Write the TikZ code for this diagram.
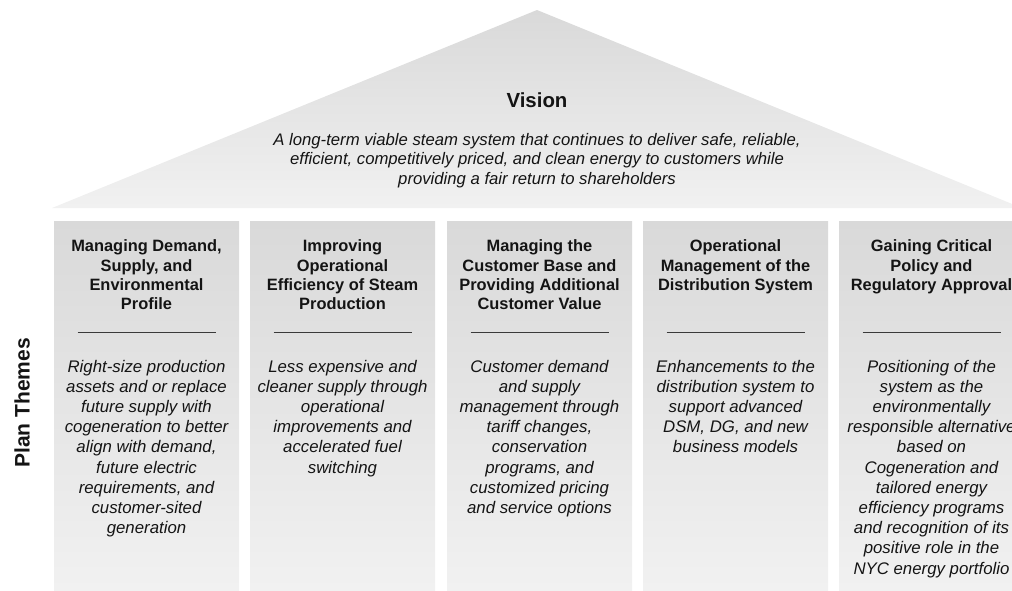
\documentclass[tikz,border=0pt]{standalone}
\usepackage{fontspec}
\setmainfont{Liberation Sans}
\usepackage{xcolor}
\usepackage{tikz}
\usetikzlibrary{positioning}

\definecolor{grisalto}{HTML}{D9D9D9}
\definecolor{grisbajo}{HTML}{F1F1F1}
\definecolor{texto}{HTML}{141414}
\definecolor{raya}{HTML}{3A3A3A}

\begin{document}
\begin{tikzpicture}[x=1pt, y=-1pt, every node/.style={text=texto}]
\tikzstyle{columna}=[
    rectangle,
    top color=grisalto,
    bottom color=grisbajo,
    draw=none,
    inner sep=0pt,
    minimum width=185pt,
    minimum height=369pt % Alto de columna
]
\tikzstyle{titulo}=[align=center, inner sep=0pt, font=\bfseries\fontsize{16.4}{19.3}\selectfont]
\tikzstyle{cuerpo}=[align=center, inner sep=0pt, font=\itshape\fontsize{16.8}{20.2}\selectfont]
\tikzstyle{regla}=[-, thick, raya]

\useasboundingbox (0,0) rectangle (1012,590);
\clip (0,0) rectangle (1012,590);

% Techo
\shade[top color=grisalto, bottom color=grisbajo] (52,208) -- (537,10) -- (1022,208) -- cycle;
\node[font=\bfseries\fontsize{20.4}{24}\selectfont] (vision) at (537,100) {Vision};
\node[cuerpo, font=\itshape\fontsize{16.7}{19.5}\selectfont, below=22pt of vision] (vtexto)
  {A long-term viable steam system that continues to deliver safe, reliable,\\
   efficient, competitively priced, and clean energy to customers while\\
   providing a fair return to shareholders};

% Columnas
\node[columna] (c1) at (146.5,405.5) {};
\node[columna] (c2) at (342.5,405.5) {};
\node[columna] (c3) at (539.5,405.5) {};
\node[columna] (c4) at (735.5,405.5) {};
\node[columna] (c5) at (931.5,405.5) {};

\node[rotate=90, font=\bfseries\fontsize{21}{25}\selectfont] (plan) at (22,403) {Plan Themes};

% Titulos
\node[titulo, below=19pt of c1.north] (t1) {Managing Demand,\\Supply, and\\Environmental\\Profile};
\node[titulo, below=19pt of c2.north] (t2) {Improving\\Operational\\Efficiency of Steam\\Production};
\node[titulo, below=19pt of c3.north] (t3) {Managing the\\Customer Base and\\Providing Additional\\Customer Value};
\node[titulo, below=19pt of c4.north] (t4) {Operational\\Management of the\\Distribution System};
\node[titulo, below=19pt of c5.north] (t5) {Gaining Critical\\Policy and\\Regulatory Approval};

% Rayas
\draw[regla] ([xshift=-69pt, yshift=-112pt]c1.north) -- ([xshift=69pt, yshift=-112pt]c1.north);
\draw[regla] ([xshift=-69pt, yshift=-112pt]c2.north) -- ([xshift=69pt, yshift=-112pt]c2.north);
\draw[regla] ([xshift=-69pt, yshift=-112pt]c3.north) -- ([xshift=69pt, yshift=-112pt]c3.north);
\draw[regla] ([xshift=-69pt, yshift=-112pt]c4.north) -- ([xshift=69pt, yshift=-112pt]c4.north);
\draw[regla] ([xshift=-69pt, yshift=-112pt]c5.north) -- ([xshift=69pt, yshift=-112pt]c5.north);

% Textos
\node[cuerpo, below=139pt of c1.north] (d1) {Right-size production\\assets and or replace\\future supply with\\cogeneration to better\\align with demand,\\future electric\\requirements, and\\customer-sited\\generation};
\node[cuerpo, below=139pt of c2.north] (d2) {Less expensive and\\cleaner supply through\\operational\\improvements and\\accelerated fuel\\switching};
\node[cuerpo, below=139pt of c3.north] (d3) {Customer demand\\and supply\\management through\\tariff changes,\\conservation\\programs, and\\customized pricing\\and service options};
\node[cuerpo, below=139pt of c4.north] (d4) {Enhancements to the\\distribution system to\\support advanced\\DSM, DG, and new\\business models};
\node[cuerpo, below=139pt of c5.north] (d5) {Positioning of the\\system as the\\environmentally\\responsible alternative\\based on\\Cogeneration and\\tailored energy\\efficiency programs\\and recognition of its\\positive role in the\\NYC energy portfolio};

\end{tikzpicture}
\end{document}
